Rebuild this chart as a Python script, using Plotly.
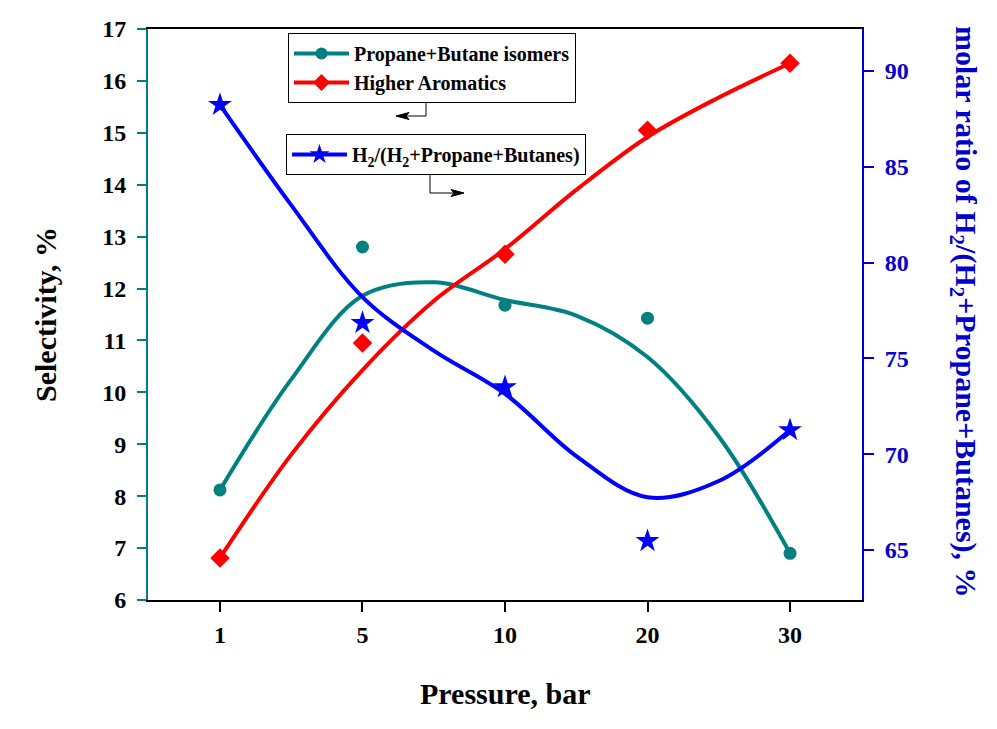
import plotly.graph_objects as go

# ---- data ----
pressure_labels = ["1", "5", "10", "20", "30"]
pos = [0, 1, 2, 3, 4]

propane_butane = [8.12, 12.80, 11.68, 11.43, 6.90]
higher_aromatics = [6.81, 10.95, 12.66, 15.05, 16.34]
h2_ratio = [88.23, 76.85, 73.50, 65.47, 71.26]

# fitted (smoothed) curves at half-category steps
curve_pos = [0, 0.5, 1, 1.5, 2, 2.5, 3, 3.5, 4]
propane_butane_fit = [8.12, 10.25, 11.86, 12.12, 11.78, 11.48, 10.68, 9.15, 6.90]
higher_aromatics_fit = [6.81, 8.80, 10.43, 11.76, 12.76, 13.90, 14.92, 15.68, 16.34]
h2_ratio_fit = [88.23, 83.00, 78.20, 75.40, 73.15, 69.90, 67.75, 68.60, 71.26]

TEAL = "#008080"
RED = "#FF0000"
BLUE = "#0000FF"
AXBLUE = "#0000CC"
FONT = "Liberation Serif"

# plot area in pixels
L, R, T, B = 148, 862, 29, 600
W, H = 997, 729


def px(x):
    return (x - L) / (R - L)


def py(y):
    return (B - y) / (B - T)


fig = go.Figure()

# fitted curves
fig.add_trace(go.Scatter(x=curve_pos, y=propane_butane_fit, mode="lines",
                         line=dict(color=TEAL, width=4, shape="spline", smoothing=1),
                         showlegend=False, hoverinfo="skip"))
fig.add_trace(go.Scatter(x=curve_pos, y=h2_ratio_fit, mode="lines", yaxis="y2",
                         line=dict(color=BLUE, width=4, shape="spline", smoothing=1),
                         showlegend=False, hoverinfo="skip"))
fig.add_trace(go.Scatter(x=curve_pos, y=higher_aromatics_fit, mode="lines",
                         line=dict(color=RED, width=4, shape="spline", smoothing=1),
                         showlegend=False, hoverinfo="skip"))

# data points
fig.add_trace(go.Scatter(x=pos, y=propane_butane, mode="markers",
                         marker=dict(color=TEAL, size=13, symbol="circle"),
                         showlegend=False))
fig.add_trace(go.Scatter(x=pos, y=higher_aromatics, mode="markers",
                         marker=dict(color=RED, size=15, symbol="diamond"),
                         showlegend=False))
fig.add_trace(go.Scatter(x=pos, y=h2_ratio, mode="markers", yaxis="y2",
                         marker=dict(color=BLUE, size=18, symbol="star"),
                         showlegend=False))

# legend entries
fig.add_trace(go.Scatter(x=[None], y=[None], mode="lines+markers", name="Propane+Butane isomers",
                         line=dict(color=TEAL, width=4),
                         marker=dict(color=TEAL, size=12, symbol="circle"), legend="legend"))
fig.add_trace(go.Scatter(x=[None], y=[None], mode="lines+markers", name="Higher Aromatics",
                         line=dict(color=RED, width=4),
                         marker=dict(color=RED, size=13, symbol="diamond"), legend="legend"))
fig.add_trace(go.Scatter(x=[None], y=[None], mode="lines+markers", yaxis="y2",
                         name="H<sub>2</sub>/(H<sub>2</sub>+Propane+Butanes)",
                         line=dict(color=BLUE, width=4),
                         marker=dict(color=BLUE, size=15, symbol="star"), legend="legend2"))

legend_common = dict(xanchor="left", yanchor="top", bgcolor="white",
                     bordercolor="black", borderwidth=1,
                     font=dict(family=FONT, size=20, color="black", weight="bold"),
                     tracegroupgap=0, itemsizing="trace", itemwidth=55)

fig.update_layout(
    width=W, height=H,
    margin=dict(l=L, r=W - R, t=T, b=H - B),
    paper_bgcolor="white", plot_bgcolor="white",
    font=dict(family=FONT, color="black"),
    xaxis=dict(range=[-0.505, 4.505], tickmode="array", tickvals=pos, ticktext=pressure_labels,
               showgrid=False, zeroline=False, showline=True, linecolor="black", linewidth=2,
               mirror=True, ticks="outside", ticklen=10, tickwidth=2, tickcolor="black",
               ticklabelstandoff=2,
               tickfont=dict(family=FONT, size=24, color="black", weight="bold")),
    yaxis=dict(range=[6, 17], tickmode="linear", tick0=6, dtick=1,
               showgrid=False, zeroline=False, showline=True, linecolor=TEAL, linewidth=2,
               ticks="outside", ticklen=9, tickwidth=2, tickcolor=TEAL,
               ticklabelstandoff=6,
               tickfont=dict(family=FONT, size=24, color="black", weight="bold")),
    yaxis2=dict(range=[62.39, 92.19], overlaying="y", side="right",
                tickmode="linear", tick0=65, dtick=5,
                showgrid=False, zeroline=False, showline=True, linecolor=AXBLUE, linewidth=2,
                ticks="outside", ticklen=10, tickwidth=2, tickcolor=AXBLUE,
                ticklabelstandoff=6,
                tickfont=dict(family=FONT, size=24, color=AXBLUE, weight="bold")),
    legend=dict(x=px(288), y=py(33), **legend_common),
    legend2=dict(x=px(286), y=py(134), **legend_common),
)

# axis titles
fig.add_annotation(text="Selectivity, %", x=px(45), y=py(315), xref="paper", yref="paper",
                   xanchor="center", yanchor="middle", showarrow=False, textangle=-90,
                   font=dict(family=FONT, size=30, color="black", weight="bold"))
fig.add_annotation(text="Pressure, bar", x=px(505), y=py(693), xref="paper", yref="paper",
                   xanchor="center", yanchor="middle", showarrow=False,
                   font=dict(family=FONT, size=30, color="black", weight="bold"))
fig.add_annotation(text="molar ratio of H<sub>2</sub>/(H<sub>2</sub>+Propane+Butanes), %",
                   x=px(964), y=py(312), xref="paper", yref="paper",
                   xanchor="center", yanchor="middle", showarrow=False, textangle=90,
                   font=dict(family=FONT, size=30, color=AXBLUE, weight="bold"))


# legend pointer arrows (elbow line + filled head)
def elbow_arrow(x0, y0, xc, yc, xt, direction):
    fig.add_shape(type="path", xref="paper", yref="paper",
                  path=f"M {px(x0)} {py(y0)} L {px(xc)} {py(yc)} L {px(xt - direction * 10)} {py(yc)}",
                  line=dict(color="black", width=1))
    fig.add_shape(type="path", xref="paper", yref="paper",
                  path=(f"M {px(xt)} {py(yc)} L {px(xt - direction * 13)} {py(yc - 3.5)} "
                        f"L {px(xt - direction * 10)} {py(yc)} L {px(xt - direction * 13)} {py(yc + 3.5)} Z"),
                  line=dict(color="black", width=1), fillcolor="black")


elbow_arrow(426, 102, 426, 116, 396, -1)
elbow_arrow(430, 173, 430, 193, 464, 1)

fig.write_html("out.html")
